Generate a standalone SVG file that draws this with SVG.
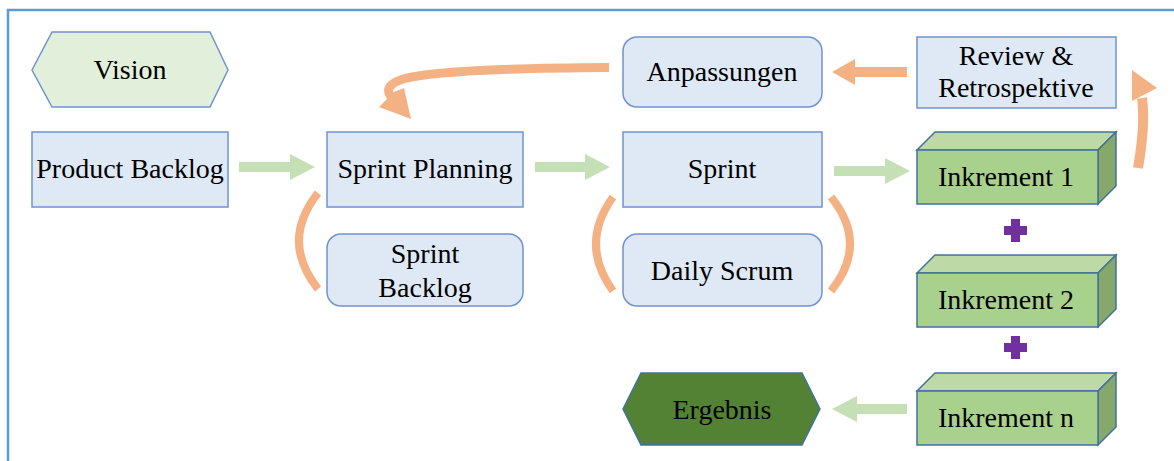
<svg xmlns="http://www.w3.org/2000/svg" width="1174" height="461" viewBox="0 0 1174 461">
<style>
.box{fill:#dee9f5;stroke:#6f93cf;stroke-width:1.5}
.vis{fill:#e2efda;stroke:#6f93cf;stroke-width:1.5}
.erg{fill:#548235;stroke:#41719c;stroke-width:1.5}
.front{fill:#a9d18e;stroke:#41719c;stroke-width:1.5}
.top{fill:#bcd9a6;stroke:#41719c;stroke-width:1.5}
.side{fill:#86a86a;stroke:#41719c;stroke-width:1.5}
.t{font-family:"Liberation Serif","Times New Roman",serif;font-size:28px;fill:#000;text-anchor:middle}
.ga{fill:#c5e0b4}
.oa{fill:#f4b183}
.arc{fill:none;stroke:#f4b183;stroke-width:8}
.plus{fill:#7030a0}
</style>
<rect x="8" y="10" width="1200" height="500" fill="#fff" stroke="#5b9bd5" stroke-width="2.5"/>
<g id="vision"><polygon class="vis" points="32,70 52,32 210,32 228,70 210,107 52,107"/><text class="t" x="130" y="79">Vision</text></g>
<g id="product-backlog"><rect class="box" x="32" y="132" width="196" height="75"/><text class="t" x="130" y="178">Product Backlog</text></g>
<g id="sprint-planning"><rect class="box" x="327" y="132" width="196" height="75"/><text class="t" x="425" y="178">Sprint Planning</text></g>
<g id="sprint"><rect class="box" x="623" y="132" width="199" height="75"/><text class="t" x="722" y="178">Sprint</text></g>
<g id="anpassungen"><rect class="box" x="623" y="37" width="199" height="70" rx="14"/><text class="t" x="722" y="81">Anpassungen</text></g>
<g id="review"><rect class="box" x="917" y="37" width="199" height="71"/><text class="t" x="1016" y="65">Review &amp;</text><text class="t" x="1016" y="97">Retrospektive</text></g>
<g id="sprint-backlog"><rect class="box" x="327" y="234" width="196" height="72" rx="14"/><text class="t" x="425" y="263">Sprint</text><text class="t" x="425" y="297">Backlog</text></g>
<g id="daily-scrum"><rect class="box" x="623" y="234" width="199" height="72" rx="14"/><text class="t" x="722" y="280">Daily Scrum</text></g>
<g id="inkrement-1"><polygon class="top" points="917,150 935,132 1116,132 1098,150"/><polygon class="side" points="1098,150 1116,132 1116,186 1098,204"/><rect class="front" x="917" y="150" width="181" height="54"/><text class="t" x="1006" y="186">Inkrement 1</text></g>
<g id="inkrement-2"><polygon class="top" points="917,273 935,255 1116,255 1098,273"/><polygon class="side" points="1098,273 1116,255 1116,309 1098,327"/><rect class="front" x="917" y="273" width="181" height="54"/><text class="t" x="1006" y="309">Inkrement 2</text></g>
<g id="inkrement-n"><polygon class="top" points="917,391 935,373 1116,373 1098,391"/><polygon class="side" points="1098,391 1116,373 1116,427 1098,445"/><rect class="front" x="917" y="391" width="181" height="54"/><text class="t" x="1006" y="427">Inkrement n</text></g>
<g id="ergebnis"><polygon class="erg" points="623,409 641,373 802,373 820,409 802,445 641,445"/><text class="t" x="722" y="419">Ergebnis</text></g>
<g id="plus-1"><path class="plus" d="M1011,219h9v7h7v9h-7v7h-9v-7h-7v-9h7z"/></g>
<g id="plus-2"><path class="plus" d="M1011,336h9v7h7v9h-7v7h-9v-7h-7v-9h7z"/></g>
<g id="connectors">
<polygon class="ga" points="239,162 290,162 290,154 315,167 290,180 290,172 239,172"/>
<polygon class="ga" points="535,162 585,162 585,154 610,167 585,180 585,172 535,172"/>
<polygon class="ga" points="834,166 885,166 885,158 910,171 885,184 885,176 834,176"/>
<polygon class="ga" points="907,404 857,404 857,396 832,409 857,422 857,414 907,414"/>
<polygon class="oa" points="907,67 855,67 855,59 832,72 855,85 855,77 907,77"/>
<path d="M609,67.5 C520,68 430,71 403,79 C388,84 386,90 391,97" fill="none" stroke="#f4b183" stroke-width="9"/>
<polygon class="oa" points="379,107 394,92 404,88 411,119"/>
<path d="M1138,168 C1142,145 1145,120 1142,98" fill="none" stroke="#f4b183" stroke-width="10"/>
<polygon class="oa" points="1132,70 1157,88 1132,101"/>
<path class="arc" d="M318,193 Q280,241 318,289"/>
<path class="arc" d="M613,197 Q579,244 613,291"/>
<path class="arc" d="M831,197 Q869,244 831,291"/>
</g>
</svg>
